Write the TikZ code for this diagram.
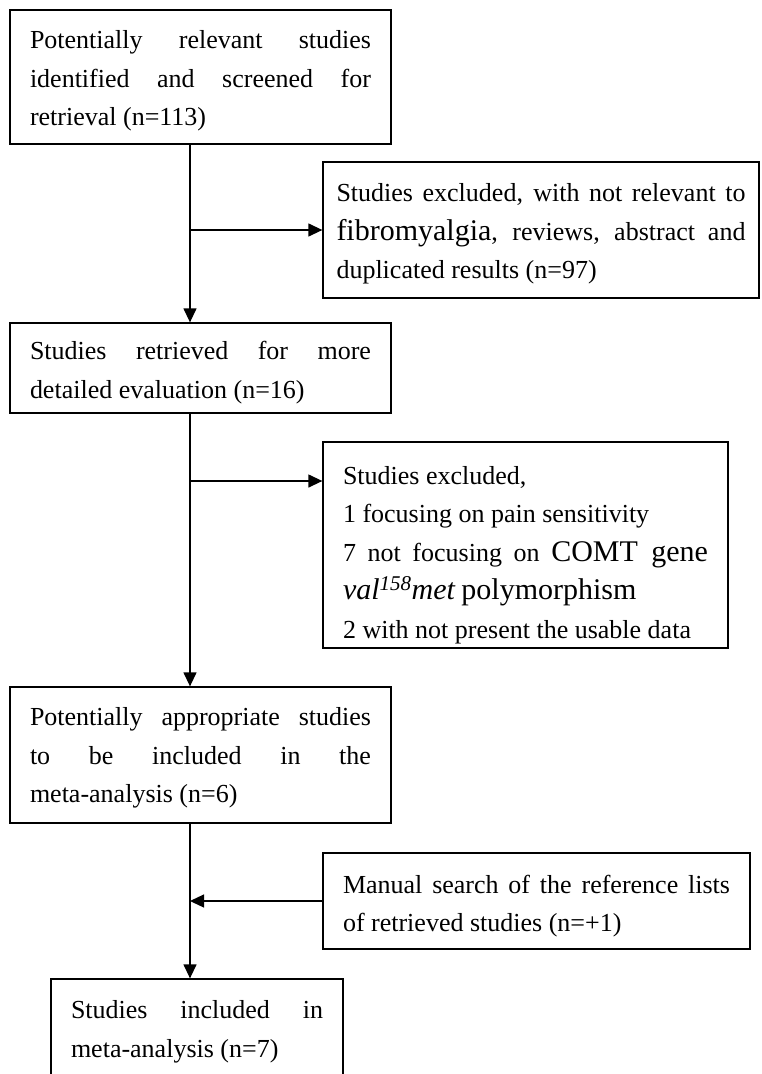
\documentclass[tikz,border=0pt]{standalone}
\usepackage{fontspec}
\setmainfont{Liberation Serif}
\usepackage{tikz}
\usetikzlibrary{arrows.meta, positioning}
\newcommand{\bigword}[1]{{\fontsize{30}{38.5}\selectfont #1}}
\newcommand{\lift}[1]{\rule{0pt}{#1}}

\begin{document}
\begin{tikzpicture}[
      x=1pt, y=-1pt,
      box/.style ={draw, line width=1.3pt, inner xsep=20pt, inner ysep=0pt,
                   align=justify, font=\fontsize{26}{38.5}\selectfont},
      arr/.style={-{Triangle[length=14pt, width=13pt]}, line width=1.3pt},
    ]
      \useasboundingbox (0,0) rectangle (761,1074);
      \coordinate (spine) at (190,0);
      % main column
      \node[box, text width=341pt, minimum height=134pt] (ident) at (200.5,77)
        {\lift{26pt}Potentially relevant studies\linebreak identified and screened for\linebreak retrieval (n=113)};
      \node[box, text width=341pt, minimum height=90pt] (retr) at (200.5,368)
        {\lift{28pt}Studies retrieved for more\linebreak detailed evaluation (n=16)};
      \node[box, text width=341pt, minimum height=136pt] (approp) at (200.5,755)
        {\lift{24pt}Potentially appropriate studies\linebreak to be included in the\linebreak meta-analysis (n=6)};
      \node[box, text width=252pt, minimum height=102pt] (incl) at (197,1030)
        {\lift{22pt}Studies included in\linebreak meta-analysis (n=7)};
      % side boxes
      \node[box, text width=409pt, inner xsep=13.5pt, minimum height=136pt] (excla) at (541,230)
        {\lift{26pt}Studies excluded, with not relevant to\linebreak \bigword{fibromyalgia}, reviews, abstract and\linebreak duplicated results (n=97)};
      \node[box, text width=365pt, minimum height=206pt] (exclb) at (525.5,545)
        {\lift{38pt}Studies excluded,\\ 1 focusing on pain sensitivity\\ 7 not focusing on \bigword{COMT gene}\linebreak
         \bigword{\itshape val\textsuperscript{158}met} \bigword{polymorphism}\\ 2 with not present the usable data};
      \node[box, text width=387pt, minimum height=96pt] (manual) at (536.5,901)
        {\lift{29pt}Manual search of the reference lists\linebreak of retrieved studies (n=+1)};
      \coordinate (jexcl) at (190,481);
      % connectors
      \draw[arr] (ident.south -| spine)  -- (retr.north -| spine);
      \draw[arr] (excla.west -| spine)   -- (excla.west);
      \draw[arr] (retr.south -| spine)   -- (approp.north -| spine);
      \draw[arr] (jexcl)                 -- (jexcl -| exclb.west);
      \draw[arr] (manual.west)           -- (manual.west -| spine);
      \draw[arr] (approp.south -| spine) -- (incl.north -| spine);
    \end{tikzpicture}
\end{document}
